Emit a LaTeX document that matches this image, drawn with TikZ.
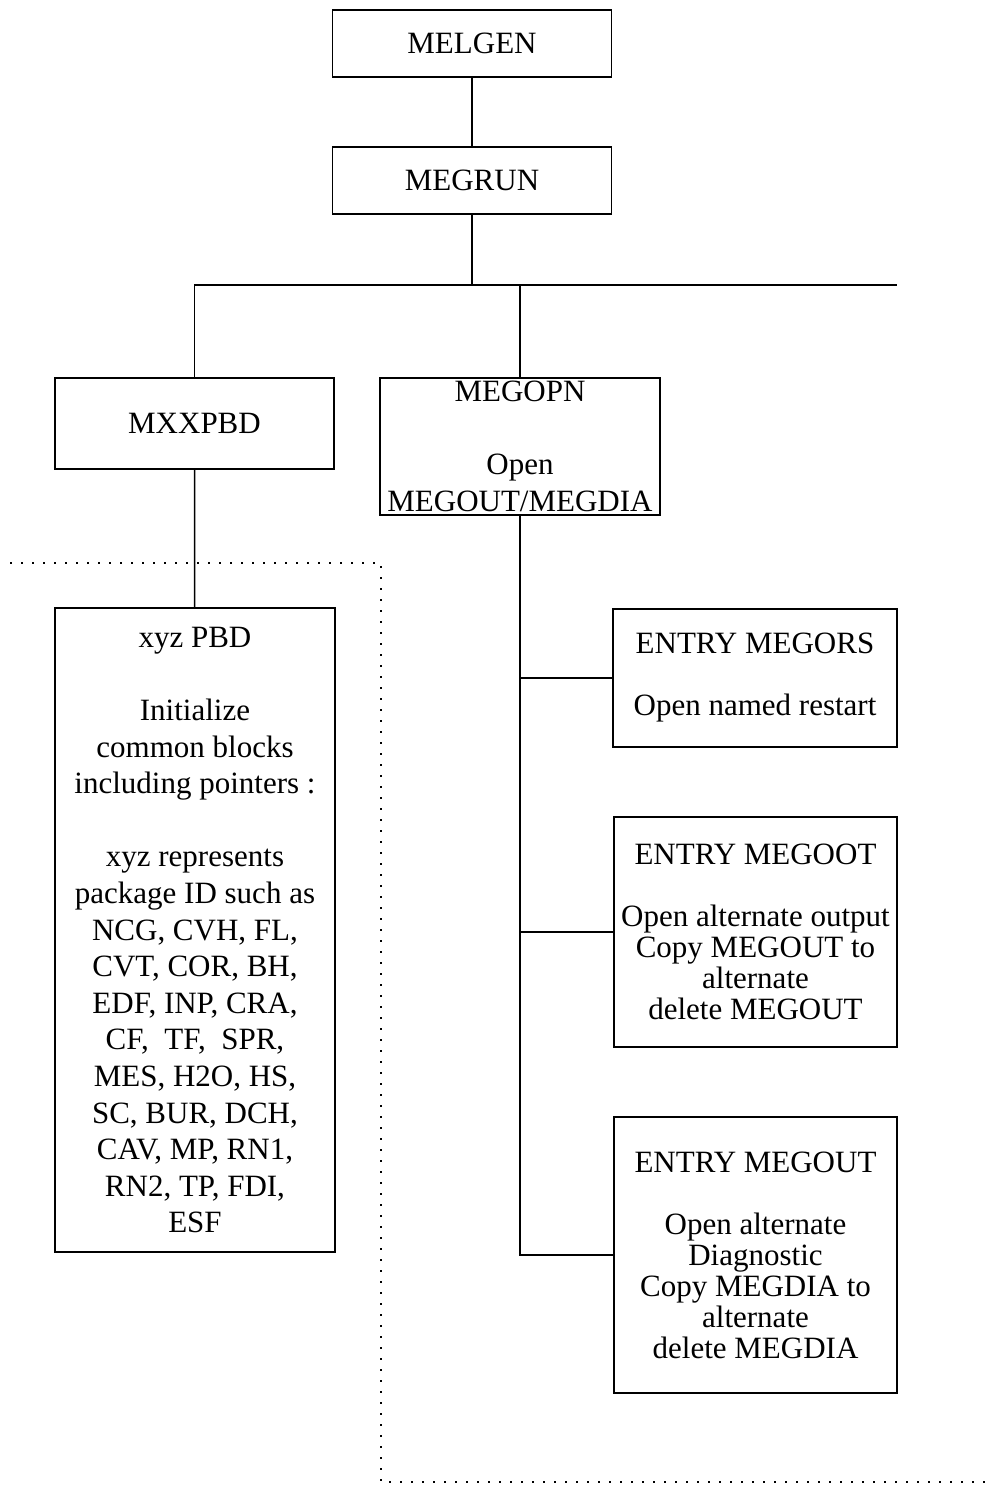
\documentclass[tikz,border=0pt]{standalone}
\usepackage{fontspec}
\setmainfont{Liberation Serif}
\usepackage{tikz}
\usetikzlibrary{positioning, calc}

\begin{document}
\begin{tikzpicture}[x=1pt, y=-1pt, line width=1.5pt,
    box/.style={draw, rectangle, inner sep=0pt, align=center,
      minimum width=279pt, font=\fontsize{31}{36.6}\selectfont},
    entry/.style={box, minimum width=283pt, font=\fontsize{31}{31}\selectfont}]
  \useasboundingbox (0,0) rectangle (985,1487);
  % main column
  \node[box, minimum height=67pt] (melgen) at (472,43.5) {MELGEN};
  \node[box, minimum height=67pt] (megrun) at (472,180.5) {MEGRUN};
  \coordinate (bus) at (472,285);
  \coordinate (busend) at (897,285);
  \draw (melgen) -- (megrun);
  \draw (megrun.south) -- (bus);
  % second row
  \node[box, minimum height=91pt] (mxxpbd) at (194.5,423.5) {MXXPBD};
  \node[box, minimum width=280pt, minimum height=137pt] (megopn) at (520,446.5)
    {MEGOPN\\[36.6pt]Open\\MEGOUT/MEGDIA};
  \draw (mxxpbd.north) |- (busend);
  \draw (megopn.north) -- (megopn.north |- bus);
  % package block data
  \node[box, minimum width=280pt, minimum height=644pt] (xyzpbd) at (195,930)
    {xyz PBD\\[36.6pt]Initialize\\common blocks\\including pointers :\\[36.6pt]
     xyz represents\\package ID such as\\NCG, CVH, FL,\\CVT, COR, BH,\\
     EDF, INP, CRA,\\CF, \ TF, \ SPR,\\MES, H2O, HS,\\SC, BUR, DCH,\\
     CAV, MP, RN1,\\RN2, TP, FDI,\\ESF};
  \draw (mxxpbd) -- (xyzpbd);
  % entries
  \node[entry, minimum width=284pt, minimum height=138pt] (megors) at (755,678)
    {ENTRY MEGORS\\[31pt]Open named restart};
  \node[entry, minimum height=230pt] (megoot) at (755.5,932)
    {ENTRY MEGOOT\\[31pt]Open alternate output\\Copy MEGOUT to\\alternate\\delete MEGOUT};
  \node[entry, minimum height=276pt] (megout) at (755.5,1255)
    {ENTRY MEGOUT\\[31pt]Open alternate\\Diagnostic\\Copy MEGDIA to\\alternate\\delete MEGDIA};
  \draw (megopn.south) |- (megout.west);
  \draw (megors.west) -- (megors.west -| megopn.south);
  \draw (megoot.west) -- (megoot.west -| megopn.south);
  % dotted outline
  \draw[line width=1.5pt, dash pattern=on 1.5pt off 9.5pt]
    (10,563) -- (381,563) -- (381,1482) -- (985,1482);
\end{tikzpicture}
\end{document}
